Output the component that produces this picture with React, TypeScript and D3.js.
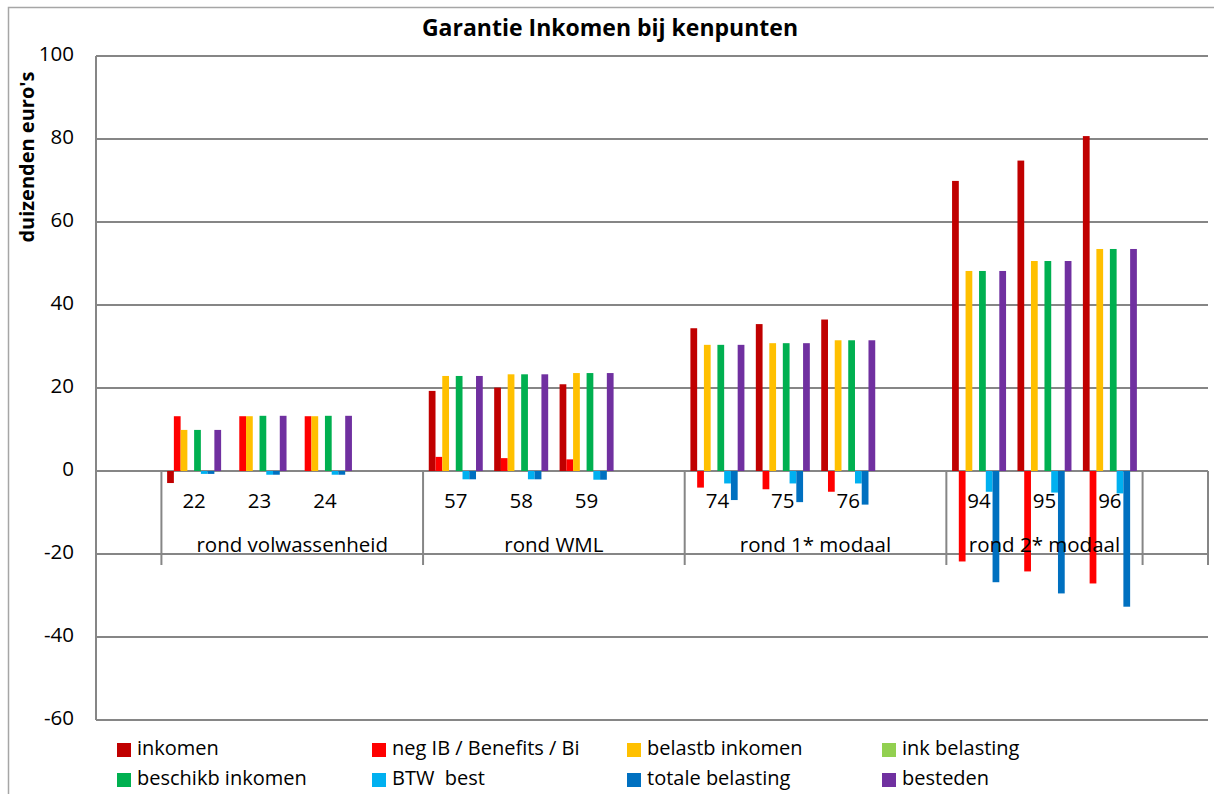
import * as d3 from 'd3'

// slot labels on the category axis (blank slots are empty spacers)
const categories = ['', '22', '23', '24', '', '57', '58', '59', '', '74', '75', '76', '', '94', '95', '96', '']
const groupLabels = ['', 'rond volwassenheid', 'rond WML', 'rond 1* modaal', 'rond 2* modaal', '']
const groupSizes = [1, 4, 4, 4, 3, 1]

const seriesNames = [
    'inkomen', 'neg IB / Benefits / Bi', 'belastb inkomen', 'ink belasting',
    'beschikb inkomen', 'BTW  best', 'totale belasting', 'besteden'
]
const seriesColors = ['#C00000', '#FF0000', '#FFC000', '#92D050', '#00B050', '#00B0F0', '#0070C0', '#7030A0']

const inkomen = [null, -2.9, 0, 0, null, 19.3, 20.1, 20.9, null, 34.4, 35.4, 36.5, null, 69.9, 74.8, 80.7, null]
const negIB = [null, 13.2, 13.2, 13.2, null, 3.4, 3.1, 2.8, null, -4.0, -4.4, -5.0, null, -21.8, -24.2, -27.1, null]
const belastbInkomen = [null, 9.9, 13.2, 13.2, null, 22.9, 23.3, 23.6, null, 30.4, 30.8, 31.5, null, 48.2, 50.6, 53.5, null]
const inkBelasting = [null, 0, 0, 0, null, 0, 0, 0, null, 0, 0, 0, null, 0, 0, 0, null]
const beschikbInkomen = [null, 9.9, 13.3, 13.3, null, 22.9, 23.3, 23.6, null, 30.4, 30.8, 31.5, null, 48.2, 50.6, 53.5, null]
const btwBest = [null, -0.7, -0.9, -0.9, null, -2.0, -2.0, -2.1, null, -3.0, -3.0, -3.0, null, -5.0, -5.2, -5.4, null]
const totaleBelasting = [null, -0.7, -0.9, -0.9, null, -2.0, -2.0, -2.1, null, -7.0, -7.5, -8.1, null, -26.8, -29.5, -32.7, null]
const besteden = [null, 9.9, 13.3, 13.3, null, 22.9, 23.3, 23.6, null, 30.4, 30.8, 31.5, null, 48.2, 50.6, 53.5, null]

const seriesValues = [inkomen, negIB, belastbInkomen, inkBelasting, beschikbInkomen, btwBest, totaleBelasting, besteden]
const yTicks = [-60, -40, -20, 0, 20, 40, 60, 80, 100]

const W = 1214
const H = 794
const plot = { left: 96, right: 1208, top: 56, bottom: 720 }
const font = "'Open Sans', 'Liberation Sans', sans-serif"
const gridColor = '#868686'

export default function App() {
    const x0 = d3.scaleBand<number>()
        .domain(d3.range(categories.length))
        .range([plot.left, plot.right])
        .padding(0)
    const x1 = d3.scaleBand<number>()
        .domain(d3.range(seriesNames.length))
        .range([0, x0.bandwidth()])
        .paddingInner(0)
        .paddingOuter(0.845)
    const y = d3.scaleLinear().domain([-60, 100]).range([plot.bottom, plot.top])
    const y0 = y(0)

    // group boundaries
    const bounds = d3.cumsum(groupSizes)
    const groupStarts = [0, ...Array.from(bounds).slice(0, -1)]

    return (
        <svg width={W} height={H} style={{ position: 'absolute', left: 0, top: 0, background: '#fff' }} fontFamily={font}>
            <rect x={8.5} y={7.5} width={W + 10} height={H + 10} fill='#fff' stroke='#a6a6a6' strokeWidth={1.5} />
            <text x={610} y={30} textAnchor='middle' dominantBaseline='middle' fontSize={23} fontWeight='bold'>
                Garantie Inkomen bij kenpunten
            </text>
            <text transform={`translate(29, 157) rotate(-90)`} textAnchor='middle' dominantBaseline='middle' fontSize={20} fontWeight='bold'>
                duizenden euro's
            </text>

            {yTicks.map(t => (
                <g key={t}>
                    <line x1={plot.left} x2={plot.right} y1={y(t)} y2={y(t)} stroke={gridColor} strokeWidth={2} />
                    <text x={74} y={y(t)} textAnchor='end' dominantBaseline='middle' fontSize={20.5}>{t}</text>
                </g>
            ))}
            <line x1={plot.left} x2={plot.left} y1={plot.top} y2={plot.bottom} stroke={gridColor} strokeWidth={2} />

            {/* group dividers on category axis */}
            {Array.from(bounds).map((b, i) => {
                const xx = b >= categories.length ? plot.right : x0(b)!
                return <line key={'d' + i} x1={xx} x2={xx} y1={y0} y2={565} stroke={gridColor} strokeWidth={2} />
            })}

            {seriesValues.map((vals, s) => (
                <g key={'s' + s} fill={seriesColors[s]}>
                    {vals.map((v, i) => v == null || v === 0 ? null : (
                        <rect key={i} x={x0(i)! + x1(s)!} width={x1.bandwidth()}
                            y={Math.min(y(v), y0)} height={Math.abs(y(v) - y0)} />
                    ))}
                </g>
            ))}

            {categories.map((c, i) => (
                <text key={'c' + i} x={x0(i)! + x0.bandwidth() / 2} y={503} textAnchor='middle' dominantBaseline='middle' fontSize={20.5}>{c}</text>
            ))}
            {groupLabels.map((g, i) => {
                const a = x0(groupStarts[i])!
                const b = a + groupSizes[i] * x0.step()
                return <text key={'g' + i} x={(a + b) / 2} y={547} textAnchor='middle' dominantBaseline='middle' fontSize={20.5}>{g}</text>
            })}

            {seriesNames.map((n, i) => {
                const col = i % 4
                const row = Math.floor(i / 4)
                const lx = 117 + col * 255
                const ly = 750 + row * 30
                return (
                    <g key={'l' + i}>
                        <rect x={lx} y={ly - 7} width={14} height={14} fill={seriesColors[i]} />
                        <text x={lx + 20} y={ly} dominantBaseline='middle' fontSize={20} style={{ whiteSpace: 'pre' }}>{n}</text>
                    </g>
                )
            })}
        </svg>
    )
}
